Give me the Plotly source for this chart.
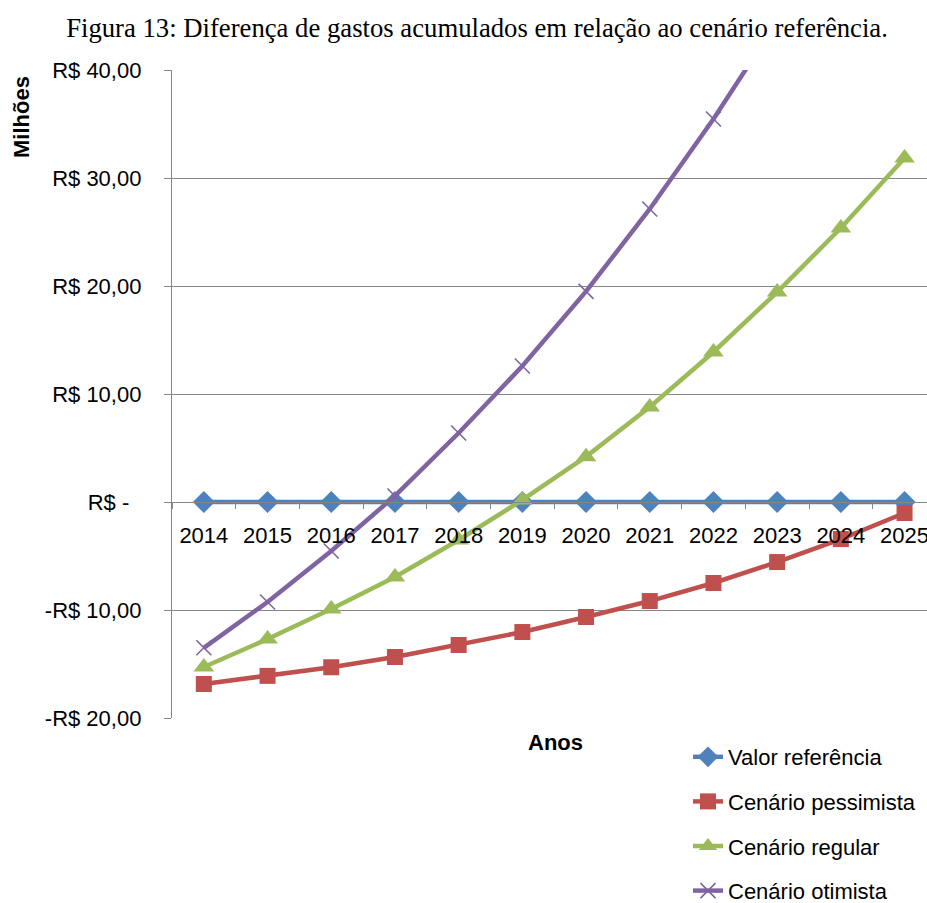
import plotly.graph_objects as go

# Anos do horizonte de análise
anos = ["2014", "2015", "2016", "2017", "2018", "2019",
        "2020", "2021", "2022", "2023", "2024", "2025"]

# Diferença de gastos acumulados (milhões de R$)
valor_referencia = [0, 0, 0, 0, 0, 0, 0, 0, 0, 0, 0, 0]
cenario_pessimista = [-16.85, -16.1, -15.3, -14.35, -13.24, -12.04,
                      -10.65, -9.17, -7.5, -5.56, -3.43, -1.02]
cenario_regular = [-15.28, -12.69, -9.91, -6.94, -3.52, 0.19,
                   4.2, 8.8, 13.89, 19.44, 25.37, 31.85]
cenario_otimista = [-13.5, -9.26, -4.54, 0.56, 6.39, 12.59,
                    19.5, 27.13, 35.46, 44.5, 54.4, 65.1]

# Rótulos do eixo de valores (formato contábil)
y_ticks = [40, 30, 20, 10, 0, -10, -20]
y_labels = ["R$ 40,00", "R$ 30,00", "R$ 20,00", "R$ 10,00",
            "R$ -\u00a0\u00a0", "-R$ 10,00", "-R$ 20,00"]

W, H = 927, 903
L, T, B = 172, 70, 185
plot_w = W - L
plot_h = H - T - B
step = 63.7  # largura de cada categoria em px

FONT = "Liberation Sans"
FS = 22
series = [
    ("Valor referência", valor_referencia, "#4F81BD",
     dict(symbol="diamond", size=17, color="#4F81BD")),
    ("Cenário pessimista", cenario_pessimista, "#C0504D",
     dict(symbol="square", size=16, color="#C0504D")),
    ("Cenário regular", cenario_regular, "#9BBB59",
     dict(symbol="triangle-up", size=18, color="#9BBB59")),
    ("Cenário otimista", cenario_otimista, "#8064A2",
     dict(symbol="x-thin", size=15, color="#8064A2",
          line=dict(color="#8064A2", width=1.6))),
]

fig = go.Figure()
for i, (nome, vals, cor, mk) in enumerate(series):
    fig.add_trace(go.Scatter(
        x=anos, y=vals, name=nome, mode="lines+markers",
        line=dict(color=cor, width=4.5), marker=mk,
        legendgroup=str(i), cliponaxis=True,
    ))

zero_frac = (0 - (-20)) / 60

fig.update_layout(
    width=W, height=H,
    margin=dict(l=L, r=0, t=T, b=B, autoexpand=False),
    paper_bgcolor="white", plot_bgcolor="white",
    title=dict(
        text="Figura 13: Diferença de gastos acumulados em relação ao cenário referência.",
        font=dict(family="Liberation Serif", size=26.7, color="black"),
        x=477 / W, xanchor="center", xref="container",
        y=1 - 28 / H, yanchor="middle", yref="container",
    ),
    xaxis=dict(
        type="category", range=[-0.5, -0.5 + plot_w / step],
        anchor="free", position=zero_frac,
        showline=True, linecolor="#868686", linewidth=1.3,
        ticks="outside", ticklen=6, tickcolor="#868686", tickwidth=1.3,
        tickson="boundaries", showgrid=False, zeroline=False,
        tickfont=dict(family=FONT, size=FS, color="black"),
        ticklabelstandoff=13,
    ),
    yaxis=dict(
        range=[-20, 40], domain=[0, 1],
        tickvals=y_ticks, ticktext=y_labels,
        showline=True, linecolor="#868686", linewidth=1.3,
        ticks="outside", ticklen=7, tickcolor="#868686", tickwidth=1.3,
        showgrid=True, gridcolor="#868686", gridwidth=1.3,
        zeroline=False,
        tickfont=dict(family=FONT, size=FS, color="black"),
        ticklabelstandoff=18,
    ),
    legend=dict(
        x=(688 - L) / plot_w, xanchor="left",
        y=(0 - (736 - (T + plot_h))) / plot_h, yanchor="top",
        font=dict(family=FONT, size=FS, color="black"),
        traceorder="grouped", tracegroupgap=13,
        bgcolor="rgba(0,0,0,0)",
        itemwidth=30,
    ),
    showlegend=True,
    annotations=[
        dict(text="<b>Milhões</b>", textangle=-90,
             xref="paper", yref="paper",
             x=(21 - L) / plot_w, xanchor="center",
             y=1 - (74 - T) / plot_h, yanchor="top",
             showarrow=False,
             font=dict(family=FONT, size=FS, color="black")),
        dict(text="<b>Anos</b>",
             xref="paper", yref="paper",
             x=(555 - L) / plot_w, xanchor="center",
             y=-(742 - (T + plot_h)) / plot_h, yanchor="middle",
             showarrow=False,
             font=dict(family=FONT, size=FS, color="black")),
    ],
)

fig.write_html("out.html")
